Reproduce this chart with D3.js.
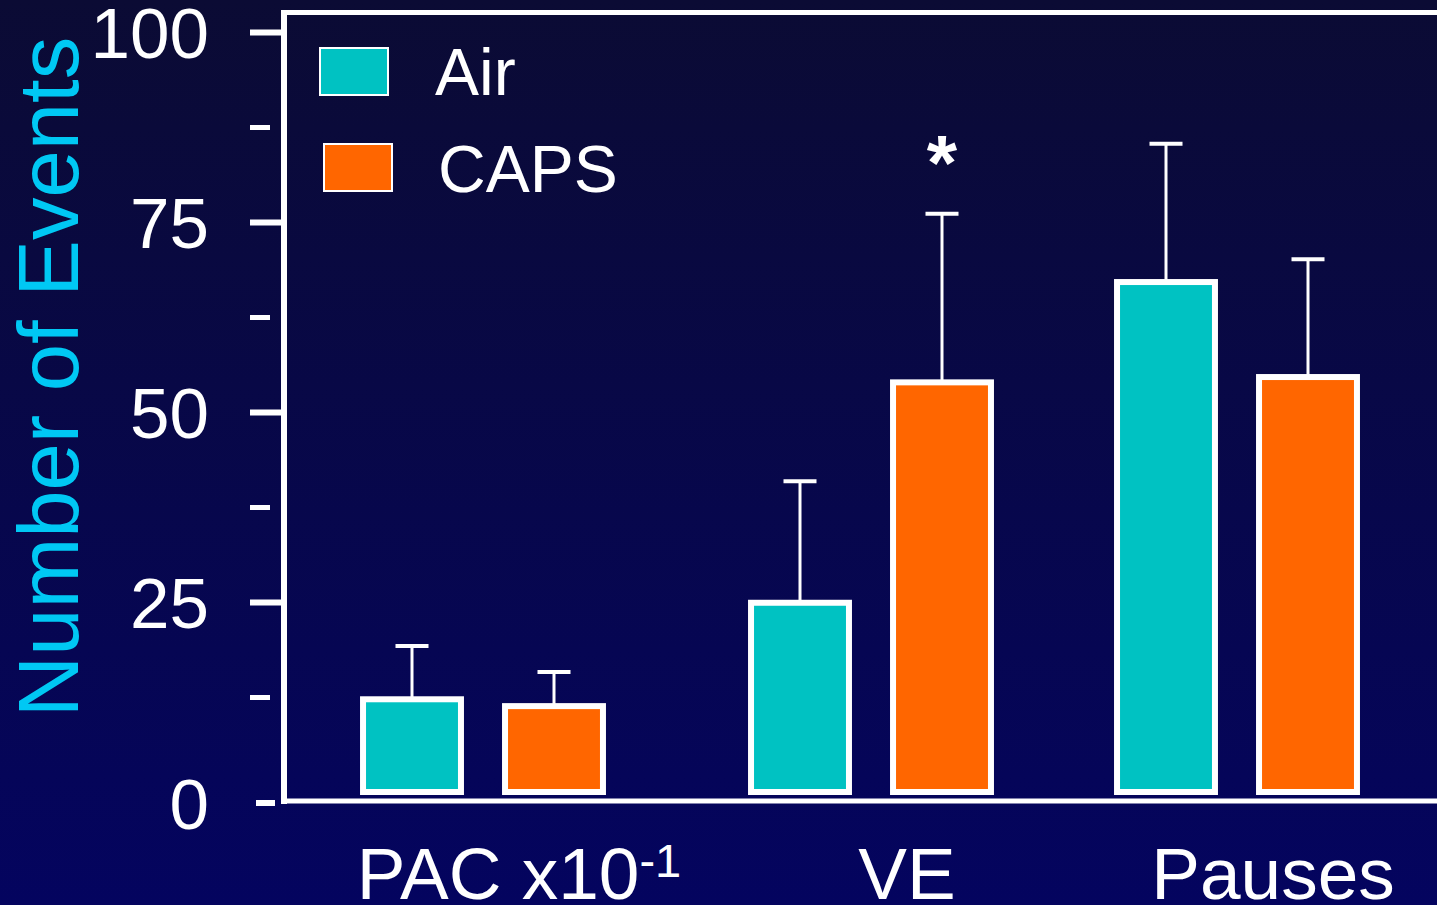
<!DOCTYPE html>
<html>
<head>
<meta charset="utf-8">
<script src="https://cdn.jsdelivr.net/npm/d3@7"></script>
<style>
  html, body { margin: 0; padding: 0; overflow: hidden; background: #07073f; }
  svg { display: block; font-family: "Liberation Sans", Arial, sans-serif; }
</style>
</head>
<body>
<div id="chart"></div>
<script>
// data
const categories = ["PAC", "VE", "Pauses"];
const series = ["Air", "CAPS"];
const airMeans = [12.2, 24.9, 67.1];
const airErr = [7.0, 16.0, 18.2];
const capsMeans = [11.3, 53.9, 54.6];
const capsErr = [4.5, 22.2, 15.5];
const yTicks = [0, 25, 50, 75, 100];
const yMinorTicks = [12.5, 37.5, 62.5, 87.5];
const significant = [false, true, false]; // star above CAPS bar

const width = 1437;
const height = 905;
const colors = { Air: "#00c2c2", CAPS: "#ff6600" };

const svg = d3.select("#chart")
  .append("svg")
  .attr("width", width)
  .attr("height", height);

// slide background gradient
const defs = svg.append("defs");
const grad = defs.append("linearGradient")
  .attr("id", "bg")
  .attr("x1", 0).attr("y1", 0).attr("x2", 0).attr("y2", 1);
grad.append("stop").attr("offset", "0%").attr("stop-color", "#0b0b34");
grad.append("stop").attr("offset", "100%").attr("stop-color", "#04045f");
svg.append("rect").attr("width", width).attr("height", height).attr("fill", "url(#bg)");

//scales
const y = d3.scaleLinear().domain([0, 100]).range([792, 32]);
const xGroup = d3.scaleOrdinal().domain(categories).range([483, 871, 1237]);
const xInner = d3.scaleBand()
  .domain(series)
  .range([-142, 142])
  .paddingInner(0.268)
  .paddingOuter(0.134);

const axisX = 284;

// rows for bars
const rows = [];
categories.forEach((c, i) => {
  rows.push({ cat: c, s: "Air", mean: airMeans[i], err: airErr[i] });
  rows.push({ cat: c, s: "CAPS", mean: capsMeans[i], err: capsErr[i], star: significant[i] });
});

// y axis - major ticks with labels
const yAxis = svg.append("g")
  .attr("transform", `translate(${axisX},0)`)
  .call(d3.axisLeft(y).tickValues(yTicks).tickSize(34).tickPadding(41).tickFormat(d3.format("d")));
yAxis.select(".domain").remove();
yAxis.selectAll(".tick line").attr("stroke", "#fff").attr("stroke-width", 6);
yAxis.selectAll(".tick text")
  .attr("fill", "#fff")
  .attr("font-size", 71)
  .attr("font-family", "'Liberation Sans', Arial, sans-serif")
  .attr("dy", "0.36em");
// the zero tick sits a little low on the original slide
yAxis.selectAll(".tick").filter((d) => d === 0)
  .attr("transform", `translate(0,${y(0) + 11})`)
  .select("line").attr("x2", -28).attr("x1", -9);

// minor ticks (detached from the axis line)
const minor = svg.append("g")
  .attr("transform", `translate(${axisX - 14},0)`)
  .call(d3.axisLeft(y).tickValues(yMinorTicks).tickSize(20).tickFormat(""));
minor.select(".domain").remove();
minor.selectAll(".tick line").attr("stroke", "#fff").attr("stroke-width", 5);

// frame: left, top and bottom lines
svg.append("line")
  .attr("x1", axisX).attr("x2", axisX)
  .attr("y1", 10).attr("y2", 804)
  .attr("stroke", "#fff").attr("stroke-width", 6);
svg.append("line")
  .attr("x1", axisX - 3).attr("x2", width)
  .attr("y1", 12.5).attr("y2", 12.5)
  .attr("stroke", "#fff").attr("stroke-width", 5);
svg.append("line")
  .attr("x1", axisX - 3).attr("x2", width)
  .attr("y1", y(0) + 9).attr("y2", y(0) + 9)
  .attr("stroke", "#fff").attr("stroke-width", 5);

// y title
svg.append("text")
  .attr("transform", `translate(78,${377}) rotate(-90)`)
  .attr("text-anchor", "middle")
  .attr("fill", "#00c8f4")
  .attr("font-size", 85)
  .text("Number of Events");

// error bars
const bw = xInner.bandwidth();
const cx = (d) => xGroup(d.cat) + xInner(d.s) + bw / 2;
const errG = svg.append("g").attr("stroke", "#fff");
errG.selectAll("line.stem")
  .data(rows)
  .join("line")
  .attr("class", "stem")
  .attr("x1", cx).attr("x2", cx)
  .attr("y1", (d) => y(d.mean))
  .attr("y2", (d) => y(d.mean + d.err))
  .attr("stroke-width", 3);
errG.selectAll("line.cap")
  .data(rows)
  .join("line")
  .attr("class", "cap")
  .attr("x1", (d) => cx(d) - 16.5).attr("x2", (d) => cx(d) + 16.5)
  .attr("y1", (d) => y(d.mean + d.err))
  .attr("y2", (d) => y(d.mean + d.err))
  .attr("stroke-width", 4);

// bars
svg.append("g")
  .selectAll("rect")
  .data(rows)
  .join("rect")
  .attr("x", (d) => xGroup(d.cat) + xInner(d.s) + 3)
  .attr("y", (d) => y(d.mean))
  .attr("width", bw - 6)
  .attr("height", (d) => y(0) - y(d.mean))
  .attr("fill", (d) => colors[d.s])
  .attr("stroke", "#fff")
  .attr("stroke-width", 6);

// significance star
svg.append("g")
  .selectAll("text")
  .data(rows.filter((d) => d.star))
  .join("text")
  .attr("x", cx)
  .attr("y", (d) => y(d.mean + d.err) - 24)
  .attr("text-anchor", "middle")
  .attr("fill", "#fff")
  .attr("font-weight", "bold")
  .attr("font-size", 78)
  .text("*");

// category labels
const xLab = svg.append("g")
  .selectAll("text")
  .data(categories)
  .join("text")
  .attr("x", (d) => xGroup(d) + 36)
  .attr("y", 899)
  .attr("text-anchor", "middle")
  .attr("fill", "#fff")
  .attr("font-size", 73);
xLab.each(function (d) {
  const t = d3.select(this);
  if (d === "PAC") {
    t.append("tspan").text("PAC x10");
    t.append("tspan").attr("dy", -22).attr("font-size", 47).text("-1");
  } else {
    t.text(d);
  }
});

// legend
const legend = svg.append("g");
const legendRows = [
  { s: "Air", x: 320, y: 48, tx: 435, ty: 95 },
  { s: "CAPS", x: 324, y: 144, tx: 438, ty: 192 },
];
legend.selectAll("rect")
  .data(legendRows)
  .join("rect")
  .attr("x", (d) => d.x)
  .attr("y", (d) => d.y)
  .attr("width", 68)
  .attr("height", 47)
  .attr("fill", (d) => colors[d.s])
  .attr("stroke", "#fff")
  .attr("stroke-width", 2);
legend.selectAll("text")
  .data(legendRows)
  .join("text")
  .attr("x", (d) => d.tx)
  .attr("y", (d) => d.ty)
  .attr("fill", "#fff")
  .attr("font-size", 66)
  .text((d) => d.s);
</script>
</body>
</html>
